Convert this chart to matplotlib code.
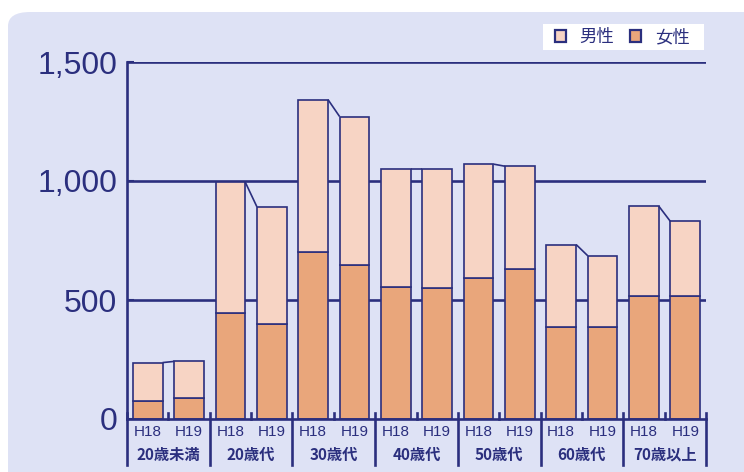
import matplotlib
matplotlib.use("Agg")
import matplotlib.pyplot as plt
import matplotlib.transforms as mtransforms
from matplotlib.patches import FancyBboxPatch, Patch, Rectangle
import numpy as np

plt.rcParams['font.family'] = ['Noto Sans CJK JP', 'DejaVu Sans']

groups = ['20歳未満', '20歳代', '30歳代', '40歳代', '50歳代', '60歳代', '70歳以上']
years = ['H18', 'H19']
women_h18 = [75, 446, 700, 554, 592, 386, 517]
men_h18 = [162, 549, 642, 496, 479, 347, 377]
women_h19 = [88, 400, 646, 550, 629, 386, 517]
men_h19 = [154, 492, 625, 500, 433, 300, 313]
yticks = [0, 500, 1000, 1500]
ytick_labels = ['0', '500', '1,000', '1,500']
legend_labels = ['男性', '女性']

NAVY = '#2b2f7e'
MEN_C = '#f7d4c4'
WOMEN_C = '#e9a67b'
BG = '#dee2f5'

W, H = 744, 472
fig = plt.figure(figsize=(W / 100, H / 100), dpi=100)
fig.patch.set_facecolor('white')

bg = FancyBboxPatch((8 / W, -0.2), 1.2, (472 - 12) / H + 0.2,
                    boxstyle="round,pad=0,rounding_size=0.03",
                    transform=fig.transFigure, facecolor=BG, edgecolor='none', zorder=-5)
fig.patches.append(bg)
legbox = Rectangle((543 / W, 1 - 50 / H), (704 - 543) / W, 26 / H,
                   transform=fig.transFigure, facecolor='white', edgecolor='none', zorder=-4)
fig.patches.append(legbox)

ax = fig.add_axes([127 / W, 1 - 419 / H, 579 / W, (419 - 62) / H])
ax.set_zorder(2)
ax.set_facecolor('none')
ax.set_xlim(0, 7)
ax.set_ylim(0, 1500)

x = np.arange(len(groups))
bw = 0.36
pos18 = x + 0.25
pos19 = x + 0.75

lw = 1.2
ax.bar(pos18, women_h18, bw, color=WOMEN_C, edgecolor=NAVY, linewidth=lw, zorder=3)
ax.bar(pos18, men_h18, bw, bottom=women_h18, color=MEN_C, edgecolor=NAVY, linewidth=lw, zorder=3)
ax.bar(pos19, women_h19, bw, color=WOMEN_C, edgecolor=NAVY, linewidth=lw, zorder=3)
ax.bar(pos19, men_h19, bw, bottom=women_h19, color=MEN_C, edgecolor=NAVY, linewidth=lw, zorder=3)

tot18 = np.array(women_h18) + np.array(men_h18)
tot19 = np.array(women_h19) + np.array(men_h19)
for i in range(len(groups)):
    ax.plot([pos18[i] + bw / 2, pos19[i] - bw / 2], [tot18[i], tot19[i]],
            color=NAVY, lw=lw, zorder=3, solid_capstyle='butt')

# grid lines
for yv in yticks[1:]:
    ax.axhline(yv, color=NAVY, lw=1.9, zorder=1)

for s in ['top', 'right']:
    ax.spines[s].set_visible(False)
ax.spines['left'].set_color(NAVY)
ax.spines['left'].set_linewidth(1.9)
ax.spines['bottom'].set_color(NAVY)
ax.spines['bottom'].set_linewidth(1.9)
ax.spines['bottom'].set_zorder(4)

ax.set_yticks(yticks)
ax.set_yticklabels(ytick_labels, family=['Liberation Sans'], fontsize=23, color=NAVY)
ax.tick_params(axis='y', direction='in', length=5, color=NAVY, width=1.5, pad=7)
ax.set_xticks([])

# separators below axis and small inner ticks
ah = (419 - 62)
trans = mtransforms.blended_transform_factory(ax.transData, ax.transAxes)
for g in range(len(groups) + 1):
    ax.plot([g, g], [-46 / ah, 6 / ah], transform=trans, color=NAVY, lw=1.9,
            clip_on=False, zorder=5)
for g in range(len(groups)):
    ax.plot([g + 0.5, g + 0.5], [0, 6 / ah], transform=trans, color=NAVY, lw=1.9,
            clip_on=False, zorder=5)

# year labels and group labels
for i, g in enumerate(groups):
    for p, yr in zip([pos18[i], pos19[i]], years):
        ax.text(p, -13 / ah, yr, transform=trans, ha='center', va='center',
                family=['Liberation Sans'], fontsize=11, color=NAVY)
    ax.text(x[i] + 0.5, -36 / ah, g, transform=trans, ha='center', va='center',
            fontsize=11, fontweight='bold', color=NAVY)

handles = [Patch(facecolor=MEN_C, edgecolor=NAVY, linewidth=1.6),
           Patch(facecolor=WOMEN_C, edgecolor=NAVY, linewidth=1.6)]
leg = fig.legend(handles, legend_labels, loc='center right',
                 bbox_to_anchor=(690 / W, 1 - 37 / H), ncol=2, frameon=False,
                 handlelength=0.65, handleheight=0.65,
                 handletextpad=0.8, columnspacing=0.9, fontsize=12.5,
                 borderpad=0, borderaxespad=0)
for t in leg.get_texts():
    t.set_color(NAVY)

fig.savefig('out.png', dpi=100, facecolor=fig.get_facecolor())
